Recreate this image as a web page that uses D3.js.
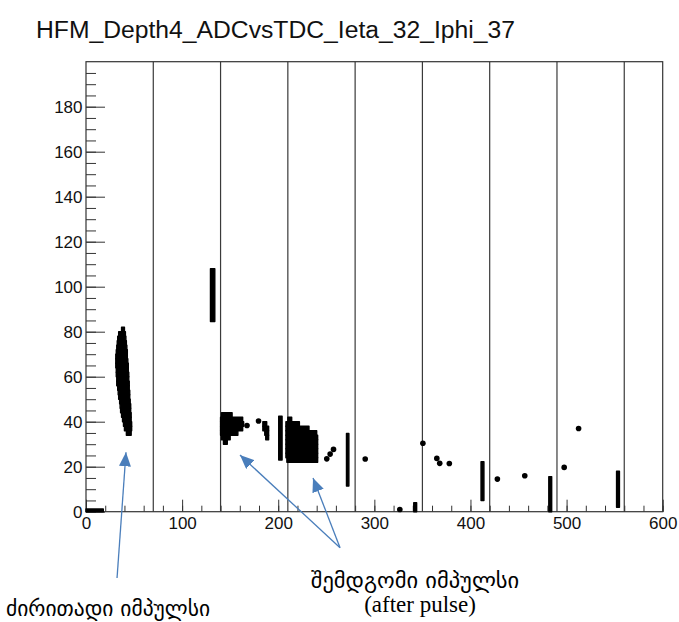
<!DOCTYPE html>
<html>
<head>
<meta charset="utf-8">
<script src="https://cdn.jsdelivr.net/npm/d3@7"></script>
<style>
  body { margin: 0; background: #fff; }
  svg { display: block; }
</style>
</head>
<body>
<svg id="chart" width="679" height="622"></svg>
<script>
const title = 'HFM_Depth4_ADCvsTDC_Ieta_32_Iphi_37';
const xTicks = [0, 100, 200, 300, 400, 500, 600];
const yTicks = [0, 20, 40, 60, 80, 100, 120, 140, 160, 180];
const dividers = [70, 140, 210, 280, 350, 420, 490, 560];

// dense clusters read row by row: [adc, tdcFrom, tdcTo]
const mainPulse = [
  [81, 37, 40], [79, 34, 41], [77, 33, 41.5], [75, 32.5, 42], [73, 32, 42.5],
  [71, 31.5, 43], [69, 31, 43], [67, 31, 43.5], [65, 31, 44], [63, 31.5, 44],
  [61, 31.5, 44.5], [59, 32, 44.5], [57, 32, 45], [55, 33, 45], [53, 33.5, 45.5],
  [51, 34, 45.5], [49, 35, 46], [47, 35.5, 46.5], [45, 36, 46.5], [43, 37, 47],
  [41, 38, 47], [39, 39, 47.5], [37, 40, 47.5], [35, 42, 47]
];
const afterPulse1 = [
  [43, 141, 152], [41, 140, 163], [39, 140, 164], [37, 140, 163],
  [35, 140, 158], [33, 141, 150], [31, 143, 147]
];
const afterPulse2 = [
  [39, 184, 188], [37, 184, 190], [35, 186, 190], [33, 187, 190]
];
const afterPulse3 = [
  [41, 210, 214], [39, 208, 222], [37, 208, 232], [35, 208, 240], [33, 208, 241],
  [31, 208, 241], [29, 208, 241], [27, 208, 241], [25, 208, 241], [23, 209, 241]
];
// narrow vertical stripes: [tdcFrom, tdcTo, adcFrom, adcTo]
const stripes = [
  [0, 18, 0, 1.2], [129.5, 134, 84.5, 108], [200.5, 204, 23, 42.4],
  [271, 273.5, 11.4, 34.8], [341, 344, 0, 4], [411, 414, 5, 22.2],
  [481.5, 484.5, 0, 15.6], [552, 555, 2, 18]
];
// single entries: [tdc, adc]
const singles = [
  [167.5, 38.3], [179.5, 40.3], [250.5, 23.5], [254, 25.6], [257.5, 27.7],
  [290.5, 23.4], [326.5, 1], [350.5, 30.4], [365, 23.7], [368, 21.5],
  [378, 21.4], [428, 14.5], [456.5, 16], [497.5, 19.7], [512.5, 37]
];
// annotation arrows in data units: [fromTdc, fromAdc, toTdc, toAdc]
const arrows = [
  [32.3, -29.5, 41.6, 26.4],
  [264.3, -16, 160.2, 25.2],
  [264.3, -16, 236.2, 15]
];

const svg = d3.select('#chart');
const frame = {left: 86, right: 662.7, top: 61.7, bottom: 511.7};

const x = d3.scaleLinear().domain([0, 600]).range([frame.left, frame.right]);
const y = d3.scaleLinear().domain([0, 200]).range([frame.bottom, frame.top]);

svg.append('text')
  .attr('x', 36).attr('y', 38)
  .attr('font-family', 'Liberation Sans, Arial, sans-serif')
  .attr('font-size', 24.7)
  .attr('fill', '#111')
  .text(title);

// divider lines
svg.append('g').selectAll('line')
  .data(dividers)
  .enter().append('line')
  .attr('x1', d => x(d)).attr('x2', d => x(d))
  .attr('y1', frame.top).attr('y2', frame.bottom)
  .attr('stroke', '#3a3a3a').attr('stroke-width', 1.2);

// minor ticks
svg.append('g')
  .attr('transform', 'translate(0,' + frame.bottom + ')')
  .call(d3.axisBottom(x).tickValues(d3.range(0, 601, 20)).tickSize(-6).tickFormat(''))
  .call(g => g.select('.domain').remove());
svg.append('g')
  .attr('transform', 'translate(' + frame.left + ',0)')
  .call(d3.axisLeft(y).tickValues(d3.range(0, 200, 5)).tickSize(-10).tickFormat(''))
  .call(g => g.select('.domain').remove());

// major ticks with labels
const xAxis = svg.append('g')
  .attr('transform', 'translate(0,' + frame.bottom + ')')
  .call(d3.axisBottom(x).tickValues(xTicks).tickSize(-12).tickPadding(5));
const yAxis = svg.append('g')
  .attr('transform', 'translate(' + frame.left + ',0)')
  .call(d3.axisLeft(y).tickValues(yTicks).tickSize(-19).tickPadding(3.5));
[xAxis, yAxis].forEach(g => {
  g.select('.domain').remove();
  g.selectAll('text')
    .attr('font-family', 'Liberation Sans, Arial, sans-serif')
    .attr('font-size', 17).attr('fill', '#111');
});
svg.selectAll('.tick line').attr('stroke', '#333');

svg.append('rect')
  .attr('x', frame.left).attr('y', frame.top)
  .attr('width', frame.right - frame.left).attr('height', frame.bottom - frame.top)
  .attr('fill', 'none').attr('stroke', '#333').attr('stroke-width', 1.2);

// data: dense areas get a thin outline so the rows merge like overlapping markers
const marks = svg.append('g')
  .attr('fill', '#000').attr('stroke', '#000')
  .attr('stroke-width', 1.4).attr('stroke-linejoin', 'round');
[mainPulse, afterPulse1, afterPulse2, afterPulse3].forEach(rows => {
  marks.append('g').selectAll('rect')
    .data(rows)
    .enter().append('rect')
    .attr('x', d => x(d[1])).attr('width', d => x(d[2]) - x(d[1]))
    .attr('y', d => y(d[0] + 1)).attr('height', d => y(d[0] - 1) - y(d[0] + 1));
});
marks.append('g').selectAll('rect')
  .data(stripes)
  .enter().append('rect')
  .attr('x', d => x(d[0])).attr('width', d => x(d[1]) - x(d[0]))
  .attr('y', d => y(d[3])).attr('height', d => y(d[2]) - y(d[3]));
marks.append('g').selectAll('circle')
  .data(singles)
  .enter().append('circle')
  .attr('stroke', 'none')
  .attr('cx', d => x(d[0])).attr('cy', d => y(d[1])).attr('r', 2.8);

// annotations
const blue = '#4a7ebb';
svg.append('defs').append('marker')
  .attr('id', 'head')
  .attr('markerUnits', 'userSpaceOnUse')
  .attr('viewBox', '0 0 14 12')
  .attr('markerWidth', 14).attr('markerHeight', 12)
  .attr('refX', 14).attr('refY', 6)
  .attr('orient', 'auto')
  .append('path')
  .attr('d', 'M0,0L14,6L0,12Z')
  .attr('fill', blue);

svg.append('g').selectAll('line')
  .data(arrows)
  .enter().append('line')
  .attr('x1', d => x(d[0])).attr('y1', d => y(d[1]))
  .attr('x2', d => x(d[2])).attr('y2', d => y(d[3]))
  .attr('stroke', blue).attr('stroke-width', 1.3)
  .attr('marker-end', 'url(#head)');

svg.append('text')
  .attr('x', 6).attr('y', 616)
  .attr('font-family', 'DejaVu Sans, sans-serif')
  .attr('font-size', 21.5)
  .text('ძირითადი იმპულსი');
svg.append('text')
  .attr('x', 415).attr('y', 588)
  .attr('text-anchor', 'middle')
  .attr('font-family', 'DejaVu Sans, sans-serif')
  .attr('font-size', 22.5)
  .text('შემდგომი იმპულსი');
svg.append('text')
  .attr('x', 420).attr('y', 612)
  .attr('text-anchor', 'middle')
  .attr('font-family', 'Liberation Serif, Times New Roman, serif')
  .attr('font-size', 23)
  .text('(after pulse)');
</script>
</body>
</html>
